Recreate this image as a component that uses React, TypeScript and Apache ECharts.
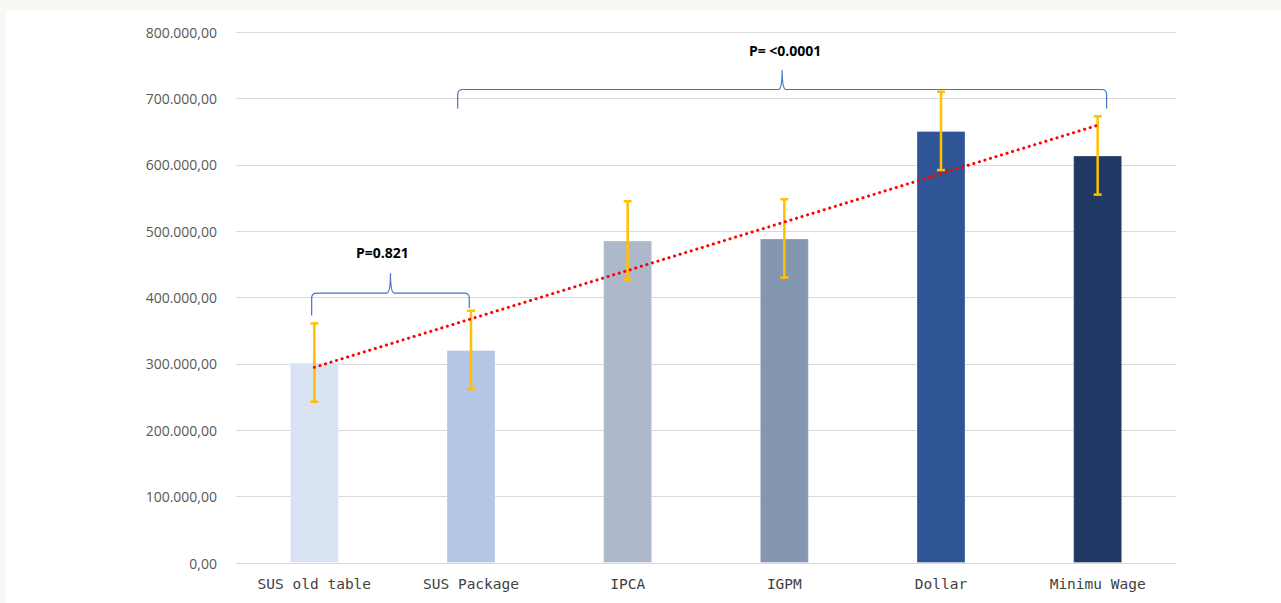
import React, { useEffect, useRef } from "react";
import * as echarts from "echarts";

// ---- data ----
const categories = ["SUS old table", "SUS Package", "IPCA", "IGPM", "Dollar", "Minimu Wage"];
const values = [302000, 321000, 486000, 489000, 651000, 614000];
const errors = [59000, 59000, 59000, 59000, 59000, 59000];
const barColors = ["#dae3f3", "#b4c7e7", "#adb9ca", "#8497b0", "#2f5597", "#203864"];

// brace annotations (category positions / value levels)
const braceLabels = ["P=0.821", "P= <0.0001"];
const braceFrom = [-0.017, 0.915];
const braceTo = [0.989, 5.057];
const braceLevel = [406600, 713400];
const braceLeftTip = [373000, 684800];
const braceRightTip = [384000, 684800];
const braceCusp = [436700, 742500];
const braceLabelLevel = [468000, 772600];
const braceLabelShift = [-8, 3];

// linear trend line (least squares over the bar values, as in the spreadsheet)
function trendValues(v: number[]): number[] {
  const n = v.length;
  const mx = (n - 1) / 2;
  const my = v.reduce((a, b) => a + b, 0) / n;
  let sxy = 0;
  let sxx = 0;
  v.forEach((y, i) => {
    sxy += (i - mx) * (y - my);
    sxx += (i - mx) * (i - mx);
  });
  const slope = sxy / sxx;
  return v.map((_, i) => my + slope * (i - mx));
}

function fmt(v: number): string {
  const s = Math.round(v).toString();
  const withDots = s.replace(/\B(?=(\d{3})+(?!\d))/g, ".");
  return withDots + ",00";
}

export default function App() {
  const ref = useRef<HTMLDivElement>(null);

  useEffect(() => {
    if (!ref.current) return;
    const chart = echarts.init(ref.current, null, { renderer: "svg" });
    const trend = trendValues(values);

    const option: any = {
      animation: false,
      grid: { left: 236, right: 105, top: 32, bottom: 40 },
      xAxis: {
        type: "category",
        data: categories,
        axisLine: { lineStyle: { color: "#d9d9d9", width: 1 } },
        axisTick: { show: false },
        axisLabel: {
          color: "#3f3f3f",
          fontFamily: "DejaVu Sans Mono",
          fontSize: 14.5,
          fontWeight: "normal",
          margin: 13,
        },
      },
      yAxis: {
        type: "value",
        min: 0,
        max: 800000,
        interval: 100000,
        axisLine: { show: false },
        axisTick: { show: false },
        splitLine: { lineStyle: { color: "#d9d9d9", width: 1 } },
        axisLabel: {
          formatter: (v: number) => fmt(v),
          color: "#595959",
          fontFamily: "Open Sans",
          fontSize: 14,
          margin: 19,
        },
      },
      series: [
        {
          type: "bar",
          barWidth: 49,
          data: values.map((v, i) => ({
            value: v,
            itemStyle: {
              color: barColors[i],
              borderColor: "rgba(255,255,255,0.3)",
              borderWidth: 1,
            },
          })),
          z: 2,
        },
        {
          type: "custom",
          z: 3,
          data: values.map((v, i) => [i, v - errors[i], v + errors[i]]),
          renderItem: (params: any, api: any) => {
            const x = api.value(0);
            const lo = api.coord([x, api.value(1)]);
            const hi = api.coord([x, api.value(2)]);
            const c = "#ffc000";
            const w = 4;
            const st = { stroke: c, lineWidth: 2.5 };
            return {
              type: "group",
              children: [
                { type: "line", shape: { x1: lo[0], y1: lo[1], x2: hi[0], y2: hi[1] }, style: st },
                { type: "line", shape: { x1: hi[0] - w, y1: hi[1], x2: hi[0] + w, y2: hi[1] }, style: st },
                { type: "line", shape: { x1: lo[0] - w, y1: lo[1], x2: lo[0] + w, y2: lo[1] }, style: st },
              ],
            };
          },
        },
        {
          type: "line",
          data: trend,
          symbol: "none",
          z: 4,
          lineStyle: { color: "#ff0000", width: 3, type: [0.1, 5.7], cap: "round" },
        },
        {
          type: "custom",
          z: 5,
          data: braceLabels.map((_, i) => [i, 0]),
          renderItem: (params: any, api: any) => {
            const i = params.dataIndex;
            const band = api.size([1, 0])[0];
            const px = (f: number) => {
              const k = Math.round(f);
              return api.coord([k, 0])[0] + (f - k) * band;
            };
            const py = (v: number) => api.coord([0, v])[1];
            const x0 = px(braceFrom[i]);
            const x1 = px(braceTo[i]);
            const xm = (x0 + x1) / 2;
            const yh = py(braceLevel[i]);
            const yl = py(braceLeftTip[i]);
            const yr = py(braceRightTip[i]);
            const yc = py(braceCusp[i]);
            const ylab = py(braceLabelLevel[i]);
            const r = 5;
            const rc = 4;
            const d =
              `M${x0},${yl} L${x0},${yh + r} Q${x0},${yh} ${x0 + r},${yh} ` +
              `L${xm - rc},${yh} Q${xm},${yh} ${xm},${yc} Q${xm},${yh} ${xm + rc},${yh} ` +
              `L${x1 - r},${yh} Q${x1},${yh} ${x1},${yh + r} L${x1},${yr}`;
            return {
              type: "group",
              children: [
                {
                  type: "path",
                  shape: { pathData: d },
                  style: { stroke: "#4472c4", lineWidth: 1.2, fill: "none" },
                },
                {
                  type: "text",
                  style: {
                    text: braceLabels[i],
                    x: xm + braceLabelShift[i],
                    y: ylab,
                    fill: "#000000",
                    font: 'bold 14px "Open Sans"',
                    align: "center",
                    verticalAlign: "middle",
                  },
                },
              ],
            };
          },
        },
      ],
    };

    chart.setOption(option);
    return () => chart.dispose();
  }, []);

  return (
    <div
      style={{
        position: "fixed",
        left: 0,
        top: 0,
        width: 1281,
        height: 603,
        background: "#f7f7f3",
        overflow: "hidden",
      }}
    >
      <div
        style={{
          position: "absolute",
          left: 6,
          top: 10,
          right: 0,
          bottom: 0,
          background: "#ffffff",
        }}
      />
      <div
        ref={ref}
        style={{ position: "absolute", left: 0, top: 0, width: 1281, height: 603 }}
      />
    </div>
  );
}
